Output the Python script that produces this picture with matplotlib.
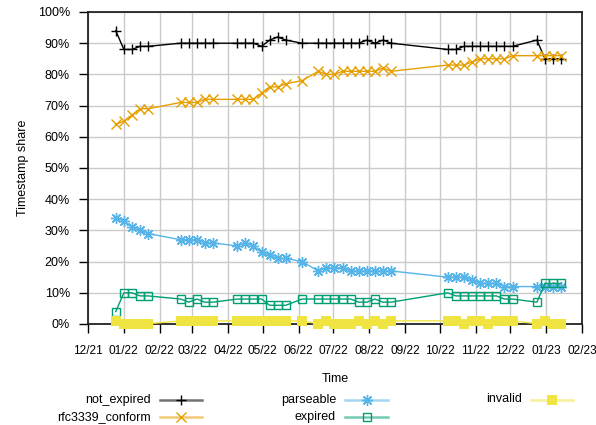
import matplotlib
matplotlib.use("Agg")
import matplotlib.pyplot as plt
import matplotlib.dates as mdates
from matplotlib.lines import Line2D
import numpy as np
import datetime as dt

plt.rcParams['font.family'] = ['Liberation Sans', 'DejaVu Sans']
plt.rcParams['font.size'] = 9

dates = ["2021-12-25", "2022-01-01", "2022-01-08", "2022-01-15", "2022-01-22",
         "2022-02-19", "2022-02-26", "2022-03-05", "2022-03-12", "2022-03-19",
         "2022-04-09", "2022-04-16", "2022-04-23", "2022-04-30", "2022-05-07",
         "2022-05-14", "2022-05-21", "2022-06-04", "2022-06-18", "2022-06-25",
         "2022-07-02", "2022-07-09", "2022-07-16", "2022-07-23", "2022-07-30",
         "2022-08-06", "2022-08-13", "2022-08-20", "2022-10-08", "2022-10-15",
         "2022-10-22", "2022-10-29", "2022-11-05", "2022-11-12", "2022-11-19",
         "2022-11-26", "2022-12-03", "2022-12-24", "2022-12-31", "2023-01-07",
         "2023-01-14"]

not_expired = [94, 88, 88, 89, 89, 90, 90, 90, 90, 90, 90, 90, 90, 89, 91, 92, 91,
               90, 90, 90, 90, 90, 90, 90, 91, 90, 91, 90, 88, 88, 89, 89, 89, 89,
               89, 89, 89, 91, 85, 85, 85]
rfc3339_conform = [64, 65, 67, 69, 69, 71, 71, 71, 72, 72, 72, 72, 72, 74, 76, 76, 77,
                   78, 81, 80, 80, 81, 81, 81, 81, 81, 82, 81, 83, 83, 83, 84, 85, 85,
                   85, 85, 86, 86, 86, 86, 86]
parseable = [34, 33, 31, 30, 29, 27, 27, 27, 26, 26, 25, 26, 25, 23, 22, 21, 21,
             20, 17, 18, 18, 18, 17, 17, 17, 17, 17, 17, 15, 15, 15, 14, 13, 13,
             13, 12, 12, 12, 12, 12, 12]
expired = [4, 10, 10, 9, 9, 8, 7, 8, 7, 7, 8, 8, 8, 8, 6, 6, 6,
           8, 8, 8, 8, 8, 8, 7, 7, 8, 7, 7, 10, 9, 9, 9, 9, 9,
           9, 8, 8, 7, 13, 13, 13]
invalid = [1.0, 0.1, 0.1, 0.1, 0.1, 1.0, 1.0, 1.0, 1.0, 1.0, 1.0, 1.0, 1.0, 1.0, 1.0,
           1.0, 1.0, 1.0, 0.1, 1.0, 0.1, 0.1, 0.1, 1.0, 0.1, 1.0, 0.1, 1.0, 1.0, 1.0,
           0.1, 1.0, 1.0, 0.1, 1.0, 1.0, 1.0, 0.1, 1.0, 0.1, 0.1]

x = [dt.datetime.strptime(d, "%Y-%m-%d") for d in dates]

W, H = 596, 425
fig = plt.figure(figsize=(W / 100, H / 100), dpi=100)
L, R, T, B = 88, 582, 12, 324
ax = fig.add_axes([L / W, 1 - B / H, (R - L) / W, (B - T) / H])

asterisk = (8, 2, 0)
series = [
    ("not_expired", not_expired, "#000000", "+", dict(ms=7, mew=1.0)),
    ("rfc3339_conform", rfc3339_conform, "#E69F00", "x", dict(ms=7, mew=1.0)),
    ("parseable", parseable, "#56B4E9", asterisk, dict(ms=8, mew=1.0)),
    ("expired", expired, "#009E73", "s", dict(ms=6.3, mew=1.0, mfc="none")),
    ("invalid", invalid, "#F0E442", "s", dict(ms=7.4, mew=0)),
]

for i, (name, vals, col, mk, kw) in enumerate(series):
    ax.plot(x, vals, color=col, lw=1.0, marker=mk, mec=col,
            mfc=kw.get("mfc", col), ms=kw["ms"], mew=kw["mew"],
            clip_on=False, zorder=3 + i)

ax.set_xlim(dt.datetime(2021, 12, 1), dt.datetime(2023, 2, 1))
ax.set_ylim(0, 100)
ax.xaxis.set_major_locator(mdates.MonthLocator())
ax.xaxis.set_major_formatter(mdates.DateFormatter("%m/%y"))
ax.set_yticks(np.arange(0, 101, 10))
ax.set_yticklabels([f"{v}%" for v in range(0, 101, 10)])
ax.grid(True, color="#cacaca", lw=1.0)
ax.set_axisbelow(True)
ax.tick_params(axis="x", direction="out", length=6.5, width=1.0, pad=8.5,
               colors="#000000", labelsize=8.6)
ax.tick_params(axis="y", direction="out", length=6.5, width=1.0, pad=6.5, colors="#000000")
for s in ax.spines.values():
    s.set_color("#222222")
    s.set_linewidth(1.3)

fig.text(23 / W, 1 - 168 / H, "Timestamp share", rotation=90, ha="center", va="center")
fig.text(335 / W, 1 - 379 / H, "Time", ha="center", va="center")

# key
rows = [399.5, 417]
cols = [(151, 160, 202), (336, 345, 388), (522, 531, 573)]
layout = [(0, 0), (0, 1), (1, 0), (1, 1), (2, 0)]
for (name, vals, col, mk, kw), (c, r) in zip(series, layout):
    tx, l0, l1 = cols[c]
    yy = 1 - rows[r] / H
    fig.text(tx / W, yy, name, ha="right", va="center")
    fig.add_artist(Line2D([l0 / W, l1 / W], [yy, yy], transform=fig.transFigure,
                          color=col, lw=1.8, alpha=0.55))
    fig.add_artist(Line2D([(l0 + l1) / 2 / W], [yy], transform=fig.transFigure,
                          color=col, lw=0, marker=mk, mec=col,
                          mfc=kw.get("mfc", col), ms=kw["ms"], mew=kw["mew"]))

fig.savefig("out.png", dpi=100)
